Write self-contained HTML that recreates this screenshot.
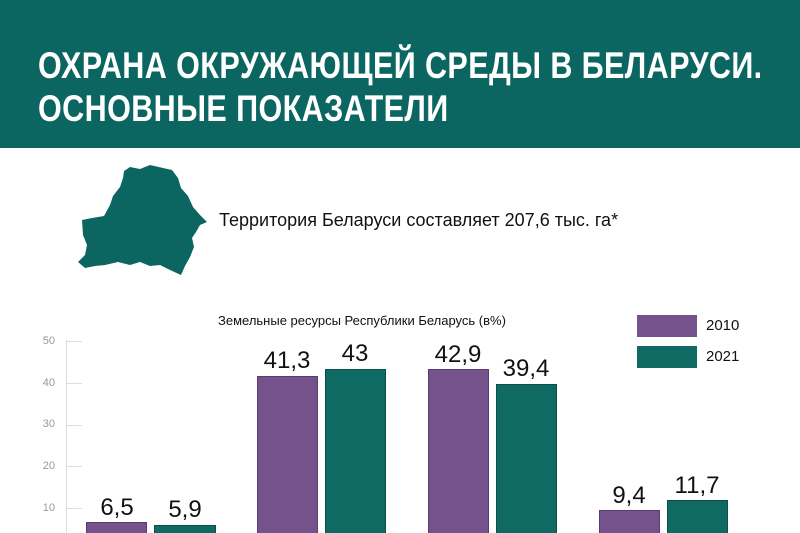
<!DOCTYPE html>
<html style="overflow:hidden;height:533px"><head><meta charset="utf-8"><style>
body{margin:0;width:800px;height:533px;overflow:hidden;background:#fff;font-family:"Liberation Sans",sans-serif;position:relative}
.hdr{position:absolute;left:0;top:0;width:800px;height:148px;background:#0b6661}
.t{position:absolute;left:38px;color:#fff;font-weight:bold;font-size:37px;white-space:nowrap;transform-origin:left top;letter-spacing:0.5px}
.a{position:absolute}
.bar{position:absolute;box-sizing:border-box;bottom:-2px}
.p{background:#76528c;border:1px solid #5a3d6e}
.g{background:#0f6a63;border:1px solid #0a4f4a}
.v{position:absolute;font-size:24px;color:#111;width:70px;text-align:center}
.yl{position:absolute;left:30px;width:25px;text-align:right;font-size:11px;color:#999}
.tk{position:absolute;left:66px;width:16px;height:1px;background:#ddd}
</style></head><body>
<div class="hdr"></div>
<div class="t" style="top:45px;transform:scaleX(0.825)">ОХРАНА ОКРУЖАЮЩЕЙ СРЕДЫ В БЕЛАРУСИ.</div>
<div class="t" style="top:88px;transform:scaleX(0.825)">ОСНОВНЫЕ ПОКАЗАТЕЛИ</div>
<svg class="a" style="left:0;top:0" width="800" height="300">
<polygon fill="#0b6661" points="124,171 130,167 140,169 150,165 163,168 172,170 178,178 181,188 188,196 193,207 200,215 207,222 200,225 196,232 192,238 194,247 190,257 185,266 181,275 170,270 160,265 150,266 140,262 130,265 118,262 105,265 95,266 85,268 78,262 85,255 87,245 83,235 82,220 92,218 104,216 110,205 113,196 120,187 123,178"/>
</svg>
<div class="a" style="left:219px;top:210px;font-size:18px;color:#111">Территория Беларуси составляет 207,6 тыс. га*</div>
<div class="a" style="left:218px;top:313px;font-size:13px;color:#111">Земельные ресурсы Республики Беларусь (в%)</div>
<div class="a" style="left:637px;top:315px;width:60px;height:22px;background:#76528c"></div>
<div class="a" style="left:637px;top:346px;width:60px;height:22px;background:#0f6a63"></div>
<div class="a" style="left:706px;top:317px;font-size:15px;color:#111">2010</div>
<div class="a" style="left:706px;top:348px;font-size:15px;color:#111">2021</div>
<div class="a" style="left:66px;top:340px;width:1px;height:193px;background:#ddd"></div>
<div class="tk" style="top:341px"></div><div class="yl" style="top:335px">50</div>
<div class="tk" style="top:383px"></div><div class="yl" style="top:377px">40</div>
<div class="tk" style="top:425px"></div><div class="yl" style="top:418px">30</div>
<div class="tk" style="top:466px"></div><div class="yl" style="top:460px">20</div>
<div class="tk" style="top:508px"></div><div class="yl" style="top:502px">10</div>
<div class="bar p" style="left:86px;top:522px;width:61px"></div><div class="v" style="left:82px;top:494px">6,5</div>
<div class="bar g" style="left:154px;top:525px;width:62px"></div><div class="v" style="left:150px;top:496px">5,9</div>
<div class="bar p" style="left:257px;top:376px;width:61px"></div><div class="v" style="left:252px;top:347px">41,3</div>
<div class="bar g" style="left:325px;top:369px;width:61px"></div><div class="v" style="left:320px;top:340px">43</div>
<div class="bar p" style="left:428px;top:369px;width:61px"></div><div class="v" style="left:423px;top:341px">42,9</div>
<div class="bar g" style="left:496px;top:384px;width:61px"></div><div class="v" style="left:491px;top:355px">39,4</div>
<div class="bar p" style="left:599px;top:510px;width:61px"></div><div class="v" style="left:594px;top:482px">9,4</div>
<div class="bar g" style="left:667px;top:500px;width:61px"></div><div class="v" style="left:662px;top:472px">11,7</div>
</body></html>
